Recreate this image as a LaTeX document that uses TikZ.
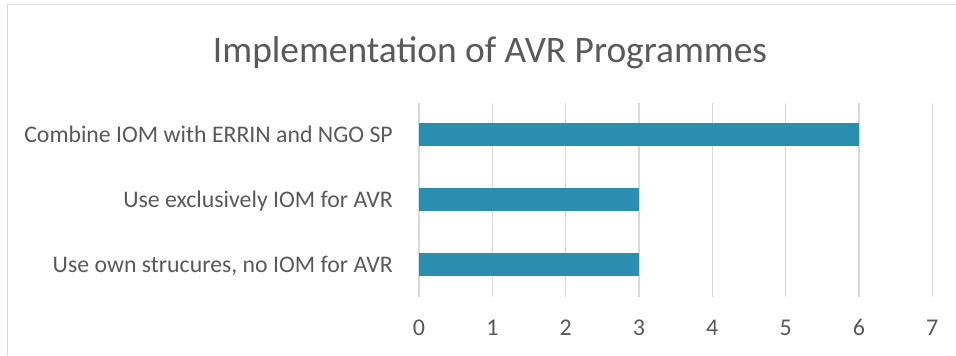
\documentclass[tikz,border=0pt]{standalone}
\usepackage{fontspec}
\setmainfont{Carlito}
\definecolor{txt}{HTML}{595959}
\definecolor{grid}{HTML}{D9D9D9}
\definecolor{bar}{HTML}{2A8FAE}
\begin{document}
\begin{tikzpicture}[x=1bp,y=-1bp,
  lbl/.style={anchor=base east,inner sep=0pt,text=txt,font=\fontsize{23.8bp}{28bp}\selectfont},
  tick/.style={anchor=base,inner sep=0pt,text=txt,font=\fontsize{24bp}{28bp}\selectfont},
  gline/.style={draw=grid,line width=1.5bp},
  barfill/.style={fill=bar}]
\useasboundingbox (0,0) rectangle (956,355);
\draw[grid,line width=1.5bp] (7.5,355) -- (7.5,4.5) -- (956,4.5);
\node[anchor=base,inner sep=0pt,text=txt,font=\fontsize{37.4bp}{44bp}\selectfont] (title) at (490,62) {Implementation of AVR Programmes};
\foreach \i in {0,...,7}{
  \draw[gline] ({419+73.33*\i},103) -- ({419+73.33*\i},297);
  \node[tick] (t\i) at ({419+73.33*\i},335) {\i};
}
\fill[barfill] (419,123) rectangle ({419+73.33*6},146);
\fill[barfill] (419,188) rectangle ({419+73.33*3},211);
\fill[barfill] (419,253) rectangle ({419+73.33*3},276);
\node[lbl] (l1) at (393,142.5) {Combine IOM with ERRIN and NGO SP};
\node[lbl] (l2) at (393,207.5) {Use exclusively IOM for AVR};
\node[lbl] (l3) at (393,272.5) {Use own strucures, no IOM for AVR};
\end{tikzpicture}
\end{document}
